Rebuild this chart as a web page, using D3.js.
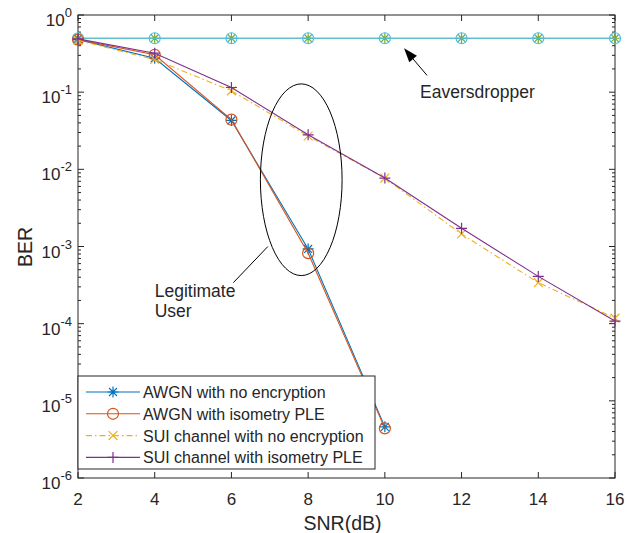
<!DOCTYPE html>
<html>
<head>
<meta charset="utf-8">
<script src="https://cdn.jsdelivr.net/npm/d3@7"></script>
<style>
body { margin: 0; background: #fff; }
text { font-family: "Liberation Sans", Arial, sans-serif; fill: #262626; }
</style>
</head>
<body>
<div id="chart"></div>
<script>
var snr = [2, 4, 6, 8, 10, 12, 14, 16];
var awgnPlain = [0.48, 0.275, 0.043, 9.3e-4, 4.6e-6];
var awgnPle = [0.48, 0.305, 0.044, 8.2e-4, 4.4e-6];
var suiPlain = [0.47, 0.265, 0.104, 0.027, 0.0077, 0.00145, 3.4e-4, 1.18e-4];
var suiPle = [0.49, 0.32, 0.115, 0.028, 0.0077, 0.00172, 4.1e-4, 1.08e-4];
var eveA = [0.5, 0.5, 0.5, 0.5, 0.5, 0.5, 0.5, 0.5];
var eveB = [0.5, 0.5, 0.5, 0.5, 0.5, 0.5, 0.5, 0.5];
var xTicks = [2, 4, 6, 8, 10, 12, 14, 16];
var yExps = [0, -1, -2, -3, -4, -5, -6];
var legendNames = ["AWGN with no encryption", "AWGN with isometry PLE", "SUI channel with no encryption", "SUI channel with isometry PLE"];

(function () {
var width = 627, height = 533;
var margin = {left: 78, right: 12, top: 15, bottom: 55};

var svg = d3.select("#chart").append("svg")
  .attr("width", width)
  .attr("height", height);

var x = d3.scaleLinear().domain([2, 16]).range([margin.left, width - margin.right]);
var y = d3.scaleLog().domain([1e-6, 1]).range([height - margin.bottom, margin.top]);

var series = [
  {name: legendNames[0], values: awgnPlain, color: "#0072BD", marker: "star", dash: null},
  {name: legendNames[1], values: awgnPle, color: "#D95319", marker: "circle", dash: null},
  {name: legendNames[2], values: suiPlain, color: "#EDB120", marker: "cross", dash: "6,3,1.5,3"},
  {name: legendNames[3], values: suiPle, color: "#7E2F8E", marker: "plus", dash: null},
  {name: "eveA", values: eveA, color: "#77AC30", marker: "star", dash: null},
  {name: "eveB", values: eveB, color: "#4DBEEE", marker: "circle", dash: null}
];

// axes box
var x0 = x.range()[0], x1 = x.range()[1], y0 = y.range()[0], y1 = y.range()[1];
svg.append("rect")
  .attr("x", x0).attr("y", y1)
  .attr("width", x1 - x0).attr("height", y0 - y1)
  .attr("fill", "none").attr("stroke", "#262626").attr("stroke-width", 1);

// x ticks
xTicks.forEach(function (t) {
  svg.append("line").attr("x1", x(t)).attr("x2", x(t)).attr("y1", y0).attr("y2", y0 - 6)
    .attr("stroke", "#262626");
  svg.append("line").attr("x1", x(t)).attr("x2", x(t)).attr("y1", y1).attr("y2", y1 + 6)
    .attr("stroke", "#262626");
  svg.append("text").attr("x", x(t)).attr("y", y0 + 27)
    .attr("text-anchor", "middle").attr("font-size", 17).text(t);
});

// y ticks, major + minor
yExps.forEach(function (e) {
  var v = Math.pow(10, e);
  [x0, x1].forEach(function (xx, i) {
    var d = i === 0 ? 6 : -6;
    svg.append("line").attr("x1", xx).attr("x2", xx + d).attr("y1", y(v)).attr("y2", y(v))
      .attr("stroke", "#262626");
  });
  var lab = svg.append("text").attr("x", x0 - 6).attr("y", y(v) + 11)
    .attr("text-anchor", "end").attr("font-size", 17);
  lab.append("tspan").text("10");
  lab.append("tspan").attr("dy", -9).attr("font-size", 13).text(e === 0 ? "0" : "-" + (-e));
  if (e < 0) {
    for (var m = 2; m <= 9; m++) {
      var mv = m * Math.pow(10, e);
      [x0, x1].forEach(function (xx, i) {
        var d = i === 0 ? 3 : -3;
        svg.append("line").attr("x1", xx).attr("x2", xx + d).attr("y1", y(mv)).attr("y2", y(mv))
          .attr("stroke", "#262626");
      });
    }
  }
});

svg.append("text").attr("x", (x0 + x1) / 2 - 4).attr("y", height - 3)
  .attr("text-anchor", "middle").attr("font-size", 19.5).text("SNR(dB)");
svg.append("text")
  .attr("transform", "translate(" + 32 + "," + 247 + ") rotate(-90)")
  .attr("text-anchor", "middle").attr("font-size", 19.5).text("BER");

function drawMarker(g, kind, cx, cy, color) {
  var r = 5.5;
  if (kind === "circle") {
    g.append("circle").attr("cx", cx).attr("cy", cy).attr("r", r)
      .attr("fill", "none").attr("stroke", color).attr("stroke-width", 1.2);
  }
  var p = d3.path();
  if (kind === "plus" || kind === "star") {
    p.moveTo(cx - r, cy); p.lineTo(cx + r, cy);
    p.moveTo(cx, cy - r); p.lineTo(cx, cy + r);
  }
  if (kind === "cross" || kind === "star") {
    var k = kind === "star" ? r * 0.72 : r * 0.8;
    p.moveTo(cx - k, cy - k); p.lineTo(cx + k, cy + k);
    p.moveTo(cx - k, cy + k); p.lineTo(cx + k, cy - k);
  }
  if (kind !== "circle") {
    g.append("path").attr("d", p.toString()).attr("fill", "none")
      .attr("stroke", color).attr("stroke-width", 1.2);
  }
}

var line = d3.line()
  .x(function (d) { return x(d[0]); })
  .y(function (d) { return y(d[1]); });

var plot = svg.append("g");
// draw eavesdropper first, then legit series
[4, 5, 0, 1, 2, 3].forEach(function (i) {
  var s = series[i];
  var pts = s.values.map(function (v, j) { return [snr[j], v]; });
  plot.append("path").datum(pts)
    .attr("d", line)
    .attr("fill", "none")
    .attr("stroke", s.color)
    .attr("stroke-width", 1.1)
    .attr("stroke-dasharray", s.dash);
  pts.forEach(function (p) {
    drawMarker(plot, s.marker, x(p[0]), y(p[1]), s.color);
  });
});

// annotation ellipse
svg.append("ellipse")
  .attr("cx", x(7.82)).attr("cy", (y(0.128) + y(4.2e-4)) / 2)
  .attr("rx", (x(8.88) - x(6.75)) / 2).attr("ry", (y(4.2e-4) - y(0.128)) / 2)
  .attr("fill", "none").attr("stroke", "#000").attr("stroke-width", 1);
svg.append("line")
  .attr("x1", x(6.95)).attr("y1", y(1.0e-3))
  .attr("x2", x(6.05)).attr("y2", y(3.4e-4))
  .attr("stroke", "#000").attr("stroke-width", 1);
svg.append("text").attr("x", x(4.0)).attr("y", 297).attr("font-size", 17.5).text("Legitimate");
svg.append("text").attr("x", x(4.0)).attr("y", 317).attr("font-size", 17.5).text("User");

// eavesdropper arrow
var tip = [x(10.5), y(0.37)], tail = [x(11.1), y(0.165)];
var ang = Math.atan2(tip[1] - tail[1], tip[0] - tail[0]);
svg.append("line")
  .attr("x1", tail[0]).attr("y1", tail[1]).attr("x2", tip[0] - 8 * Math.cos(ang)).attr("y2", tip[1] - 8 * Math.sin(ang))
  .attr("stroke", "#000").attr("stroke-width", 1);
var hl = 14, hw = 5;
var bx = tip[0] - hl * Math.cos(ang), by = tip[1] - hl * Math.sin(ang);
svg.append("path")
  .attr("d", "M" + tip[0] + "," + tip[1] +
    "L" + (bx + hw * Math.sin(ang)) + "," + (by - hw * Math.cos(ang)) +
    "L" + (bx - hw * Math.sin(ang)) + "," + (by + hw * Math.cos(ang)) + "Z")
  .attr("fill", "#000");
svg.append("text").attr("x", 420).attr("y", 98).attr("font-size", 17.5).text("Eaversdropper");

// legend
var lg = svg.append("g");
lg.append("rect").attr("x", x0).attr("y", 376).attr("width", 297).attr("height", 93)
  .attr("fill", "#fff").attr("stroke", "#262626").attr("stroke-width", 1);
series.slice(0, 4).forEach(function (s, i) {
  var yy = 392 + i * 21.8;
  lg.append("line").attr("x1", 86).attr("x2", 140).attr("y1", yy).attr("y2", yy)
    .attr("stroke", s.color).attr("stroke-width", 1.1).attr("stroke-dasharray", s.dash);
  drawMarker(lg, s.marker, 113, yy, s.color);
  lg.append("text").attr("x", 143).attr("y", yy + 6).attr("font-size", 16).text(s.name);
});
})();
</script>
</body>
</html>
